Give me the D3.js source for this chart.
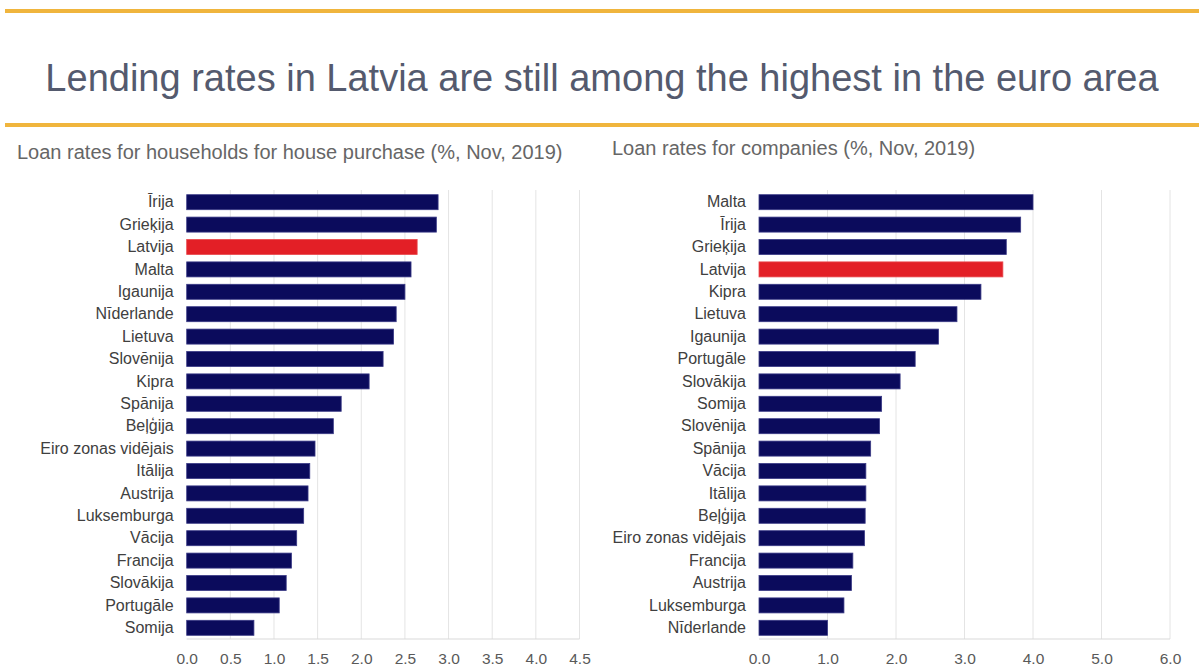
<!DOCTYPE html>
<html>
<head>
<meta charset="utf-8">
<script src="https://cdn.jsdelivr.net/npm/d3@7"></script>
<style>
  body { margin: 0; background: #fff; }
  svg { display: block; font-family: "Liberation Sans", Arial, sans-serif; }
</style>
</head>
<body>
<script>
// Loan rates for households for house purchase (%, Nov, 2019)
const hhCountries = ["Īrija", "Grieķija", "Latvija", "Malta", "Igaunija", "Nīderlande", "Lietuva",
  "Slovēnija", "Kipra", "Spānija", "Beļģija", "Eiro zonas vidējais", "Itālija", "Austrija",
  "Luksemburga", "Vācija", "Francija", "Slovākija", "Portugāle", "Somija"];
const hhRates = [2.88, 2.86, 2.64, 2.57, 2.50, 2.40, 2.37, 2.25, 2.09, 1.77, 1.68, 1.47, 1.41, 1.39,
  1.34, 1.26, 1.20, 1.14, 1.06, 0.77];
const hhTicks = [0, 0.5, 1, 1.5, 2, 2.5, 3, 3.5, 4, 4.5];

// Loan rates for companies (%, Nov, 2019)
const coCountries = ["Malta", "Īrija", "Grieķija", "Latvija", "Kipra", "Lietuva", "Igaunija",
  "Portugāle", "Slovākija", "Somija", "Slovēnija", "Spānija", "Vācija", "Itālija", "Beļģija",
  "Eiro zonas vidējais", "Francija", "Austrija", "Luksemburga", "Nīderlande"];
const coRates = [4.00, 3.82, 3.61, 3.56, 3.24, 2.89, 2.62, 2.28, 2.06, 1.79, 1.76, 1.63, 1.56, 1.56,
  1.55, 1.54, 1.37, 1.35, 1.24, 1.00];
const coTicks = [0, 1, 2, 3, 4, 5, 6];

const highlight = "Latvija";

let width = 1204, height = 666;

let svg = d3.select('body')
            .append('svg')
            .attr('width', width)
            .attr('height', height);

// Orange rules above and below the title
[11, 125].forEach(y => {
    svg.append('line')
       .attr('x1', 5).attr('x2', 1199)
       .attr('y1', y).attr('y2', y)
       .attr('stroke', '#f0b53d')
       .attr('stroke-width', 4);
});

// Title
svg.append('text')
   .attr('x', 602)
   .attr('y', 91)
   .attr('text-anchor', 'middle')
   .style('font-size', '38px')
   .style('fill', '#545a6e')
   .text('Lending rates in Latvia are still among the highest in the euro area');

// Draws one horizontal bar chart
function drawChart(opts) {
    const x = d3.scaleLinear()
        .domain(opts.domain)
        .range([opts.left, opts.right]);

    const y = d3.scaleBand()
        .domain(opts.categories)
        .range([191, 639])
        .paddingInner(0.33)
        .paddingOuter(0.165);

    // Subtitle
    svg.append('text')
       .attr('x', opts.titleX)
       .attr('y', opts.titleY)
       .style('font-size', '20px')
       .style('fill', '#666666')
       .text(opts.title);

    // Vertical gridlines
    svg.append('g')
       .selectAll('line')
       .data(opts.ticks.filter(t => t > 0))
       .enter()
       .append('line')
       .attr('x1', d => x(d)).attr('x2', d => x(d))
       .attr('y1', 190).attr('y2', 639)
       .attr('stroke', '#e4e4e4')
       .attr('stroke-width', 1);

    // Baseline
    svg.append('line')
       .attr('x1', opts.left).attr('x2', opts.right)
       .attr('y1', 639).attr('y2', 639)
       .attr('stroke', '#d9d9d9');

    // Bars
    svg.append('g')
       .selectAll('rect')
       .data(opts.categories.map((c, i) => ({ c: c, v: opts.values[i] })))
       .enter()
       .append('rect')
       .attr('x', x(0))
       .attr('y', d => y(d.c))
       .attr('width', d => x(d.v) - x(0))
       .attr('height', y.bandwidth())
       .attr('fill', d => d.c === highlight ? '#e31f26' : '#0b0b5c')
       .attr('stroke', d => d.c === highlight ? '#e8474c' : '#3a3a86')
       .attr('stroke-width', 0.8);

    // Category labels
    const yAxis = svg.append('g')
       .attr('transform', `translate(${opts.left},0)`)
       .call(d3.axisLeft(y).tickSize(0).tickPadding(13));
    yAxis.select('.domain').remove();
    yAxis.selectAll('text')
         .style('font-size', '16px')
         .style('font-family', '"Liberation Sans", Arial, sans-serif')
         .style('fill', '#404040');

    // Value axis
    const xAxis = svg.append('g')
       .attr('transform', 'translate(0,639)')
       .call(d3.axisBottom(x).tickValues(opts.ticks).tickFormat(d3.format('.1f'))
               .tickSize(0).tickPadding(14));
    xAxis.select('.domain').remove();
    xAxis.selectAll('text')
         .style('font-size', '15.5px')
         .style('font-family', '"Liberation Sans", Arial, sans-serif')
         .style('fill', '#595959');
}

drawChart({
    title: 'Loan rates for households for house purchase (%, Nov, 2019)',
    titleX: 17, titleY: 159,
    categories: hhCountries, values: hhRates, ticks: hhTicks,
    domain: [0, 4.5], left: 186.7, right: 579.5
});

drawChart({
    title: 'Loan rates for companies (%, Nov, 2019)',
    titleX: 612, titleY: 155,
    categories: coCountries, values: coRates, ticks: coTicks,
    domain: [0, 6], left: 759, right: 1170
});
</script>
</body>
</html>
